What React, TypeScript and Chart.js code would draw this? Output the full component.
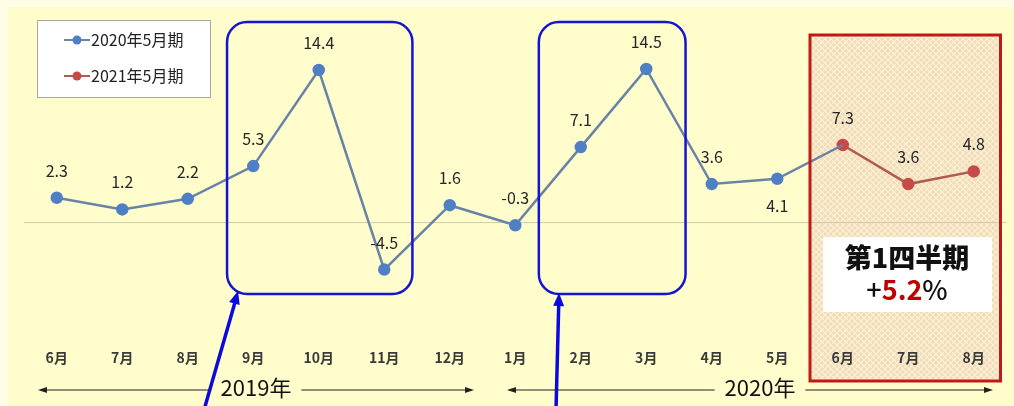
import React, { useEffect, useRef } from "react";
import { Chart, registerables } from "chart.js";

Chart.register(...registerables);

const categories = ["6月", "7月", "8月", "9月", "10月", "11月", "12月", "1月", "2月", "3月", "4月", "5月", "6月", "7月", "8月"];
const series2020: (number | null)[] = [2.3, 1.2, 2.2, 5.3, 14.4, -4.5, 1.6, -0.3, 7.1, 14.5, 3.6, 4.1, 7.3, null, null];
const series2021: (number | null)[] = [null, null, null, null, null, null, null, null, null, null, null, null, 7.3, 3.6, 4.8];
const seriesNames = ["2020年5月期", "2021年5月期"];
const labelsBelow = [11];
const hiddenLabelIdx2020 = [12];
const yearLabels = ["2019年", "2020年"];
const quarterTitle = "第1四半期";
const quarterValue = "5.2";

const FONT = "'Noto Sans CJK JP', 'Noto Sans', sans-serif";
const BLUE_LINE = "#6883a6";
const BLUE_PT = "#4f7fc4";
const RED_LINE = "#b25a52";
const RED_PT = "#c94848";

function arrowHead(ctx: CanvasRenderingContext2D, x1: number, y1: number, x2: number, y2: number, len: number, w: number) {
  const a = Math.atan2(y2 - y1, x2 - x1);
  ctx.beginPath();
  ctx.moveTo(x2, y2);
  ctx.lineTo(x2 - len * Math.cos(a) + (w / 2) * Math.sin(a), y2 - len * Math.sin(a) - (w / 2) * Math.cos(a));
  ctx.lineTo(x2 - len * Math.cos(a) - (w / 2) * Math.sin(a), y2 - len * Math.sin(a) + (w / 2) * Math.cos(a));
  ctx.closePath();
  ctx.fill();
}

function roundRect(ctx: CanvasRenderingContext2D, x: number, y: number, w: number, h: number, r: number) {
  ctx.beginPath();
  ctx.moveTo(x + r, y);
  ctx.lineTo(x + w - r, y);
  ctx.arcTo(x + w, y, x + w, y + r, r);
  ctx.lineTo(x + w, y + h - r);
  ctx.arcTo(x + w, y + h, x + w - r, y + h, r);
  ctx.lineTo(x + r, y + h);
  ctx.arcTo(x, y + h, x, y + h - r, r);
  ctx.lineTo(x, y + r);
  ctx.arcTo(x, y, x + r, y, r);
  ctx.closePath();
}

function makeHatch(): CanvasPattern | string {
  const c = document.createElement("canvas");
  c.width = 6;
  c.height = 6;
  const g = c.getContext("2d");
  if (!g) return "#f3e3bc";
  g.fillStyle = "#f1dcb6";
  g.fillRect(0, 0, 6, 6);
  g.strokeStyle = "#fbf1d8";
  g.lineWidth = 1.2;
  g.beginPath();
  g.moveTo(0, 0);
  g.lineTo(6, 6);
  g.moveTo(6, 0);
  g.lineTo(0, 6);
  g.stroke();
  const p = g.createPattern(c, "repeat");
  return p || "#f3e3bc";
}

const decorPlugin = {
  id: "decor",
  beforeDraw(chart: any) {
    const ctx: CanvasRenderingContext2D = chart.ctx;
    const x = chart.scales.x;
    const y = chart.scales.y;
    const W = chart.width;
    const H = chart.height;
    ctx.save();
    ctx.fillStyle = "#fffde6";
    ctx.fillRect(0, 0, W, H);
    ctx.fillStyle = "#fffdcb";
    ctx.fillRect(8, 7, W - 8, H - 7);
    const rx1 = x.getPixelForValue(11.5);
    const rx2 = chart.chartArea.right - 6;
    ctx.fillStyle = makeHatch();
    ctx.fillRect(rx1, 35, rx2 - rx1, 346);
    const y0 = y.getPixelForValue(0);
    ctx.strokeStyle = "#cfcbb0";
    ctx.lineWidth = 1;
    ctx.beginPath();
    ctx.moveTo(chart.chartArea.left, y0 + 0.5);
    ctx.lineTo(chart.chartArea.right, y0 + 0.5);
    ctx.stroke();
    ctx.restore();
  },
  afterDatasetsDraw(chart: any) {
    const ctx: CanvasRenderingContext2D = chart.ctx;
    ctx.save();
    ctx.font = `16px ${FONT}`;
    ctx.fillStyle = "#262626";
    ctx.textAlign = "center";
    ctx.textBaseline = "middle";
    chart.data.datasets.forEach((ds: any, di: number) => {
      const meta = chart.getDatasetMeta(di);
      meta.data.forEach((pt: any, i: number) => {
        const v = ds.data[i];
        if (v === null || v === undefined) return;
        if (di === 0 && hiddenLabelIdx2020.includes(i)) return;
        const below = di === 0 && labelsBelow.includes(i);
        ctx.fillText(v.toFixed(1), pt.x, below ? pt.y + 27 : pt.y - 27);
      });
    });
    ctx.restore();
  },
  afterDraw(chart: any) {
    const ctx: CanvasRenderingContext2D = chart.ctx;
    const x = chart.scales.x;
    ctx.save();
    ctx.strokeStyle = "#1414d2";
    ctx.lineWidth = 2.5;
    const boxes = [
      [2.6, 5.43],
      [7.36, 9.6],
    ];
    boxes.forEach(([a, b]) => {
      const xa = x.getPixelForValue(a);
      const xb = x.getPixelForValue(b);
      roundRect(ctx, xa, 22, xb - xa, 272, 20);
      ctx.stroke();
    });
    ctx.strokeStyle = "#0a0ae0";
    ctx.fillStyle = "#0a0ae0";
    ctx.lineWidth = 3.5;
    const arrows = [
      [204, 410, 238, 291],
      [556, 410, 559, 293],
    ];
    arrows.forEach(([x1, y1, x2, y2]) => {
      ctx.beginPath();
      ctx.moveTo(x1, y1);
      ctx.lineTo(x2 - (x2 - x1) * 0.06, y2 + 8);
      ctx.stroke();
      arrowHead(ctx, x1, y1, x2, y2, 13, 11);
    });
    const rx1 = x.getPixelForValue(11.5);
    const rx2 = chart.chartArea.right - 6;
    ctx.strokeStyle = "#bf1a1a";
    ctx.lineWidth = 3;
    ctx.strokeRect(rx1, 35, rx2 - rx1, 346);
    ctx.fillStyle = "#ffffff";
    ctx.fillRect(823, 237, 169, 75);
    ctx.textBaseline = "middle";
    ctx.textAlign = "center";
    ctx.fillStyle = "#111111";
    ctx.font = `900 27px ${FONT}`;
    ctx.fillText(quarterTitle, 907, 258);
    const plus = "+";
    const pct = "%";
    ctx.textAlign = "left";
    ctx.font = `500 27px ${FONT}`;
    const wPlus = ctx.measureText(plus).width;
    const wPct = ctx.measureText(pct).width;
    ctx.font = `bold 27px ${FONT}`;
    const wVal = ctx.measureText(quarterValue).width;
    let sx = 907 - (wPlus + wVal + wPct) / 2;
    ctx.font = `500 27px ${FONT}`;
    ctx.fillStyle = "#111111";
    ctx.fillText(plus, sx, 290);
    sx += wPlus;
    ctx.font = `bold 27px ${FONT}`;
    ctx.fillStyle = "#c00000";
    ctx.fillText(quarterValue, sx, 290);
    sx += wVal;
    ctx.font = `500 27px ${FONT}`;
    ctx.fillStyle = "#111111";
    ctx.fillText(pct, sx, 290);
    const spans = [
      [38, 474, 256],
      [507, 993, 760],
    ];
    ctx.strokeStyle = "#222222";
    ctx.fillStyle = "#222222";
    ctx.lineWidth = 1.2;
    ctx.font = `22px ${FONT}`;
    ctx.textAlign = "center";
    spans.forEach(([l, r, c], i) => {
      const tw = ctx.measureText(yearLabels[i]).width;
      const ly = 390;
      ctx.beginPath();
      ctx.moveTo(l + 4, ly);
      ctx.lineTo(c - tw / 2 - 10, ly);
      ctx.moveTo(c + tw / 2 + 10, ly);
      ctx.lineTo(r - 4, ly);
      ctx.stroke();
      arrowHead(ctx, l + 10, ly, l, ly, 9, 6);
      arrowHead(ctx, r - 10, ly, r, ly, 9, 6);
      ctx.fillStyle = "#111111";
      ctx.fillText(yearLabels[i], c, ly - 2);
      ctx.fillStyle = "#222222";
    });
    ctx.fillStyle = "#ffffff";
    ctx.fillRect(37, 20, 173, 77);
    ctx.strokeStyle = "#a8a8a0";
    ctx.lineWidth = 1;
    ctx.strokeRect(37.5, 20.5, 173, 77);
    const items = [
      [BLUE_LINE, BLUE_PT, 40],
      [RED_LINE, RED_PT, 76],
    ];
    items.forEach(([lc, pc, ly]: any, i) => {
      ctx.strokeStyle = lc;
      ctx.lineWidth = 2;
      ctx.beginPath();
      ctx.moveTo(64, ly);
      ctx.lineTo(90, ly);
      ctx.stroke();
      ctx.fillStyle = pc;
      ctx.beginPath();
      ctx.arc(77, ly, 4.5, 0, Math.PI * 2);
      ctx.fill();
      ctx.fillStyle = "#222222";
      ctx.font = `16px ${FONT}`;
      ctx.textAlign = "left";
      ctx.textBaseline = "middle";
      ctx.fillText(seriesNames[i], 91, ly);
    });
    ctx.restore();
  },
};

export default function App() {
  const ref = useRef<HTMLCanvasElement | null>(null);
  useEffect(() => {
    if (!ref.current) return;
    const chart = new Chart(ref.current, {
      type: "line",
      data: {
        labels: categories,
        datasets: [
          {
            label: seriesNames[0],
            data: series2020,
            borderColor: BLUE_LINE,
            backgroundColor: BLUE_PT,
            pointBackgroundColor: BLUE_PT,
            pointBorderColor: BLUE_PT,
            borderWidth: 2.5,
            pointRadius: (c: any) => (hiddenLabelIdx2020.includes(c.dataIndex) ? 0 : 5),
            spanGaps: false,
          },
          {
            label: seriesNames[1],
            data: series2021,
            borderColor: RED_LINE,
            backgroundColor: RED_PT,
            pointBackgroundColor: RED_PT,
            pointBorderColor: RED_PT,
            borderWidth: 2.5,
            pointRadius: 5,
          },
        ],
      },
      options: {
        animation: false,
        responsive: false,
        events: [],
        layout: { padding: { top: 32, left: 24, right: 5, bottom: 0 } },
        plugins: { legend: { display: false }, tooltip: { enabled: false } },
        scales: {
          x: {
            offset: true,
            grid: { display: false, drawTicks: false },
            border: { display: false },
            ticks: {
              padding: 0,
              color: "#3a3a3a",
              font: { family: FONT, size: 14, weight: "bold" },
              maxRotation: 0,
              autoSkip: false,
            },
            afterFit: (s: any) => {
              s.height = 57.2;
            },
          },
          y: {
            display: false,
            min: -12,
            max: 18,
          },
        },
      },
      plugins: [decorPlugin],
    } as any);
    return () => chart.destroy();
  }, []);
  return (
    <div style={{ position: "absolute", left: 0, top: 0, width: 1014, height: 406 }}>
      <canvas ref={ref} width={1014} height={406} style={{ width: 1014, height: 406, display: "block" }} />
    </div>
  );
}
